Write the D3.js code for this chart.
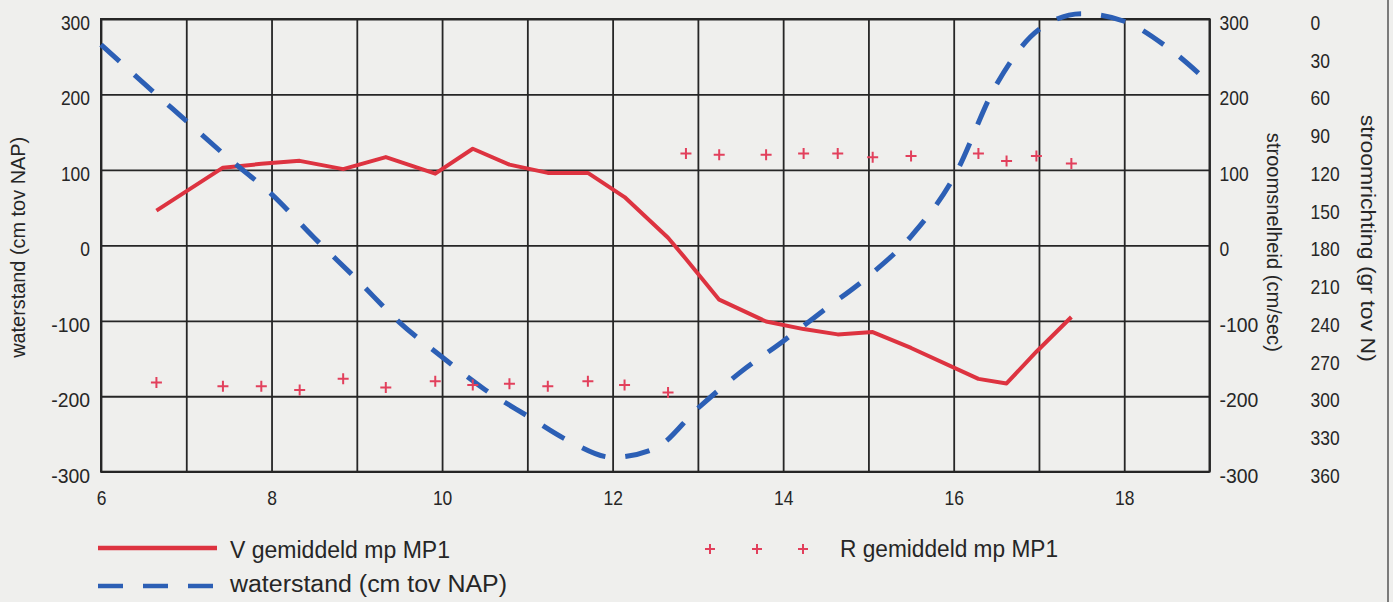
<!DOCTYPE html>
<html>
<head>
<meta charset="utf-8">
<script src="https://cdn.jsdelivr.net/npm/d3@7"></script>
<style>
  body { margin: 0; background: #efefed; }
  svg { display: block; }
  .tick text { font-family: "Liberation Sans", sans-serif; font-size: 21px; fill: #262626; }
  .title { font-family: "Liberation Sans", sans-serif; font-size: 21px; fill: #262626; }
  .legend { font-family: "Liberation Sans", sans-serif; font-size: 23px; fill: #262626; }
</style>
</head>
<body>
<svg id="chart" width="1393" height="602"></svg>
<script>
// measuring times (hours) for stroomsnelheid / stroomrichting
var hours = [6.65, 7.43, 7.88, 8.33, 8.84, 9.34, 9.92, 10.36, 10.79, 11.24, 11.71, 12.14,
             12.65, 12.86, 13.25, 13.80, 14.24, 14.64, 15.05, 15.50, 16.29, 16.62, 16.97, 17.38];
// V gemiddeld mp MP1 (cm/sec)
var velocity = [46, 103, 108, 112, 101, 117, 95, 128, 107, 96, 96, 64,
                10, -18, -72, -101, -111, -118, -115, -136, -177, -183, -141, -95];
// R gemiddeld mp MP1 (gr tov N)
var direction = [289, 292, 292, 295, 286, 293, 288, 291, 290, 292, 288, 291,
                 297, 107, 108, 108, 107, 107, 110, 109, 107, 113, 109, 115];
// waterstand (cm tov NAP)
var waterTimes = [6, 6.5, 7, 7.5, 8, 8.5, 9, 9.5, 10, 10.5, 11, 11.5, 12, 12.5, 13,
                  13.5, 14, 14.5, 15, 15.5, 16, 16.5, 17, 17.5, 18, 18.5, 19];
var waterLevel = [266, 215, 165, 115, 68, 10, -45, -102, -148, -191, -226, -260, -281, -269, -216,
                  -168, -127, -84, -41, 12, 90, 213, 286, 307, 297, 263, 215];

var xTicks = [6, 8, 10, 12, 14, 16, 18];
var xGrid = d3.range(6, 20, 1);
var levelTicks = [-300, -200, -100, 0, 100, 200, 300];
var dirTicks = [0, 30, 60, 90, 120, 150, 180, 210, 240, 270, 300, 330, 360];

var svg = d3.select("#chart"),
    margin = {top: 19, left: 101, bottom: 130.3, right: 183.5},
    width = +svg.attr("width") - margin.left - margin.right,
    height = +svg.attr("height") - margin.top - margin.bottom;

var x = d3.scaleLinear().domain([6, 19]).range([margin.left, margin.left + width]);
var y = d3.scaleLinear().domain([-300, 300]).range([margin.top + height, margin.top]);
var yDir = d3.scaleLinear().domain([0, 360]).range([margin.top, margin.top + height]);

var ink = "#262626";
var digitW = 9.7;   // plotter font, narrow digits

function squeeze(g) {
  g.selectAll("text")
    .attr("textLength", d => String(d).length * digitW)
    .attr("lengthAdjust", "spacingAndGlyphs");
}

// grid
svg.append("g")
    .attr("transform", "translate(" + margin.left + ",0)")
    .call(d3.axisLeft(y).tickValues(levelTicks).tickSize(-width).tickFormat(""))
    .call(g => g.select(".domain").remove())
    .call(g => g.selectAll("line").attr("stroke", ink).attr("stroke-width", 1.8));

svg.append("g")
    .attr("transform", "translate(0," + (margin.top + height) + ")")
    .call(d3.axisBottom(x).tickValues(xGrid).tickSize(-height).tickFormat(""))
    .call(g => g.select(".domain").remove())
    .call(g => g.selectAll("line").attr("stroke", ink).attr("stroke-width", 1.8));

svg.append("rect")
    .attr("x", margin.left).attr("y", margin.top)
    .attr("width", width).attr("height", height)
    .attr("fill", "none").attr("stroke", ink).attr("stroke-width", 2);

// axes labels
svg.append("g")
    .attr("transform", "translate(" + margin.left + ",0)")
    .call(d3.axisLeft(y).tickValues(levelTicks).tickSize(0).tickPadding(11).tickFormat(d => String(d)))
    .call(g => g.select(".domain").remove())
    .call(g => g.selectAll("text").attr("dy", "0.5em"))
    .call(squeeze);

svg.append("g")
    .attr("transform", "translate(" + (margin.left + width) + ",0)")
    .call(d3.axisRight(y).tickValues(levelTicks).tickSize(0).tickPadding(10).tickFormat(d => String(d)))
    .call(g => g.select(".domain").remove())
    .call(g => g.selectAll("text").attr("dy", "0.5em"))
    .call(squeeze);

svg.append("g")
    .attr("transform", "translate(" + (margin.left + width + 91) + ",0)")
    .call(d3.axisRight(yDir).tickValues(dirTicks).tickSize(0).tickPadding(10).tickFormat(d => String(d)))
    .call(g => g.select(".domain").remove())
    .call(g => g.selectAll("text").attr("dy", "0.5em"))
    .call(squeeze);

svg.append("g")
    .attr("transform", "translate(0," + (margin.top + height) + ")")
    .call(d3.axisBottom(x).tickValues(xTicks).tickSize(0).tickPadding(18).tickFormat(d => String(d)))
    .call(g => g.select(".domain").remove())
    .call(squeeze);

// axis titles
svg.append("text").attr("class", "title")
    .attr("transform", "translate(25," + (margin.top + height / 2 + 2) + ") rotate(-90)")
    .attr("text-anchor", "middle")
    .attr("textLength", 221).attr("lengthAdjust", "spacingAndGlyphs")
    .text("waterstand (cm tov NAP)");

svg.append("text").attr("class", "title")
    .attr("transform", "translate(1267," + (margin.top + height / 2 - 3) + ") rotate(90)")
    .attr("text-anchor", "middle")
    .attr("textLength", 219).attr("lengthAdjust", "spacingAndGlyphs")
    .text("stroomsnelheid (cm/sec)");

svg.append("text").attr("class", "title")
    .attr("transform", "translate(1361," + (margin.top + height / 2 - 7) + ") rotate(90)")
    .attr("text-anchor", "middle")
    .attr("textLength", 247).attr("lengthAdjust", "spacingAndGlyphs")
    .text("stroomrichting (gr tov N)");

// page edge
svg.append("line")
    .attr("x1", 1388).attr("x2", 1388).attr("y1", 0).attr("y2", 602)
    .attr("stroke", "#555").attr("stroke-width", 1.5);

// series
var red = "#dd3340", blue = "#2c5fb5", pink = "#e2405c";

var vLine = d3.line()
    .x((d, i) => x(hours[i]))
    .y(d => y(d));

svg.append("path")
    .datum(velocity)
    .attr("fill", "none")
    .attr("stroke", red)
    .attr("stroke-width", 4)
    .attr("stroke-linejoin", "round")
    .attr("d", vLine);

var wLine = d3.line()
    .curve(d3.curveMonotoneX)
    .x((d, i) => x(waterTimes[i]))
    .y(d => y(d));

svg.append("path")
    .datum(waterLevel)
    .attr("fill", "none")
    .attr("stroke", blue)
    .attr("stroke-width", 5)
    .attr("stroke-dasharray", "25,20")
    .attr("d", wLine);

var plus = "M-5.5,0H5.5M0,-5.5V5.5";

svg.selectAll(".dir")
    .data(direction)
    .enter().append("path")
    .attr("class", "dir")
    .attr("d", plus)
    .attr("transform", (d, i) => "translate(" + x(hours[i]) + "," + yDir(d) + ")")
    .attr("stroke", pink)
    .attr("stroke-width", 2)
    .attr("fill", "none");

// legend
var legend = svg.append("g");

legend.append("line")
    .attr("x1", 98).attr("x2", 217).attr("y1", 548).attr("y2", 548)
    .attr("stroke", red).attr("stroke-width", 4.5);
legend.append("text").attr("class", "legend")
    .attr("x", 230).attr("y", 558)
    .attr("textLength", 220).attr("lengthAdjust", "spacingAndGlyphs")
    .text("V gemiddeld mp MP1");

legend.append("line")
    .attr("x1", 98).attr("x2", 217).attr("y1", 586).attr("y2", 586)
    .attr("stroke", blue).attr("stroke-width", 4.5)
    .attr("stroke-dasharray", "25,20");
legend.append("text").attr("class", "legend")
    .attr("x", 230).attr("y", 592)
    .attr("textLength", 277).attr("lengthAdjust", "spacingAndGlyphs")
    .text("waterstand (cm tov NAP)");

[710, 757, 803].forEach(function(px) {
  legend.append("path")
      .attr("d", "M-5,0H5M0,-5V5")
      .attr("transform", "translate(" + px + ",549)")
      .attr("stroke", pink).attr("stroke-width", 2).attr("fill", "none");
});
legend.append("text").attr("class", "legend")
    .attr("x", 840).attr("y", 557)
    .attr("textLength", 218).attr("lengthAdjust", "spacingAndGlyphs")
    .text("R gemiddeld mp MP1");
</script>
</body>
</html>
